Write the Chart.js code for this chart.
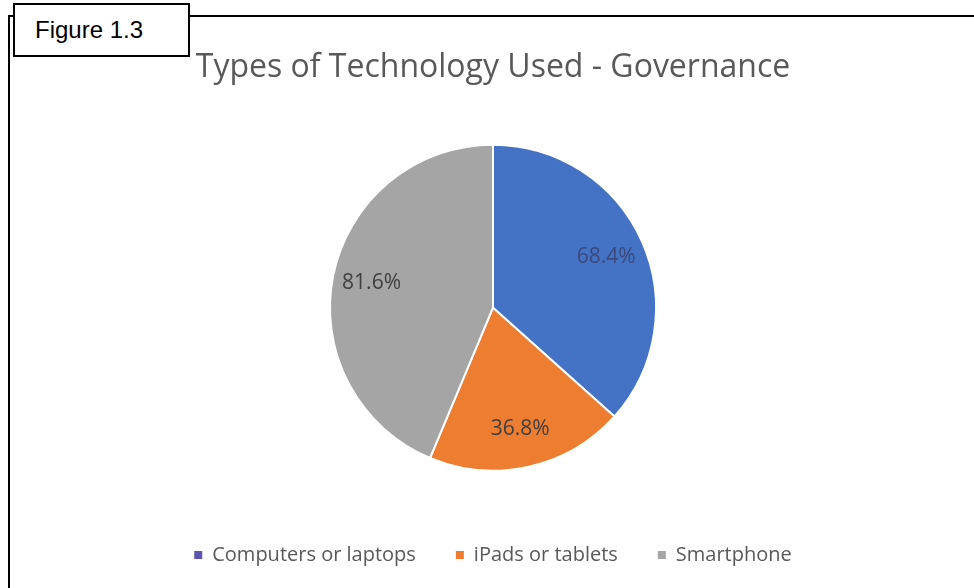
<!DOCTYPE html>
<html>
<head>
<meta charset="utf-8">
<script src="https://cdn.jsdelivr.net/npm/chart.js@4/dist/chart.umd.min.js"></script>
<style>
  html, body { margin: 0; padding: 0; background: #fff; }
  #wrap { position: relative; width: 974px; height: 588px; overflow: hidden; }
  #frame {
    position: absolute; left: 8px; top: 15px; width: 980px; height: 600px;
    border-top: 2px solid #000; border-left: 2px solid #000; box-sizing: border-box;
  }
  #fig {
    position: absolute; left: 13px; top: 3px; width: 177px; height: 54px;
    border: 2px solid #000; background: #fff; box-sizing: border-box;
    font-family: "Liberation Sans", Arial, sans-serif; font-size: 24px; color: #000;
    padding: 11px 0 0 20px;
  }
  canvas { position: absolute; left: 0; top: 0; }
</style>
</head>
<body>
<div id="wrap">
  <div id="frame"></div>
  <canvas id="pieChart" width="974" height="588"></canvas>
  <div id="fig">Figure 1.3</div>
</div>
<script>
// Dados do gráfico
const categorias = ['Computers or laptops', 'iPads or tablets', 'Smartphone'];
const valores = [68.4, 36.8, 81.6];
const cores = ['#4472C4', '#ED7D31', '#A5A5A5'];
const coresLegenda = ['#5F55B0', '#ED7D31', '#A5A5A5'];

const fonte = '"Open Sans", Lato, sans-serif';

// Rótulos percentuais dentro de cada fatia
const rotulosFatias = {
    id: 'rotulosFatias',
    afterDatasetsDraw(chart) {
        const ctx = chart.ctx;
        const meta = chart.getDatasetMeta(0);
        ctx.save();
        ctx.font = '21px ' + fonte;
        ctx.textAlign = 'center';
        ctx.textBaseline = 'middle';
        meta.data.forEach((arc, i) => {
            const meio = (arc.startAngle + arc.endAngle) / 2;
            const r = arc.outerRadius * 0.76;
            const x = arc.x + Math.cos(meio) * r;
            const y = arc.y + Math.sin(meio) * r;
            ctx.fillStyle = i === 0 ? '#3a4a7a' : '#404040';
            ctx.fillText(valores[i].toFixed(1) + '%', x, y);
        });
        ctx.restore();
    }
};

new Chart(document.getElementById('pieChart'), {
    type: 'pie',
    data: {
        labels: categorias,
        datasets: [{
            data: valores,
            backgroundColor: cores,
            borderColor: '#ffffff',
            borderWidth: 2,
            radius: 163
        }]
    },
    options: {
        responsive: false,
        animation: false,
        layout: { padding: { left: 12, right: 0, top: 0, bottom: 13 } },
        plugins: {
            title: {
                display: true,
                text: 'Types of Technology Used - Governance',
                color: '#595959',
                font: { family: fonte, size: 32, weight: 'normal' },
                padding: { top: 49, bottom: 23 }
            },
            legend: {
                position: 'bottom',
                labels: {
                    color: '#595959',
                    font: { family: fonte, size: 20 },
                    boxWidth: 8,
                    boxHeight: 8,
                    padding: 40,
                    generateLabels: (chart) => categorias.map((c, i) => ({
                        text: c,
                        fillStyle: coresLegenda[i],
                        strokeStyle: coresLegenda[i],
                        lineWidth: 0,
                        fontColor: '#595959',
                        index: i
                    }))
                }
            },
            tooltip: { enabled: false }
        }
    },
    plugins: [rotulosFatias]
});
</script>
</body>
</html>
